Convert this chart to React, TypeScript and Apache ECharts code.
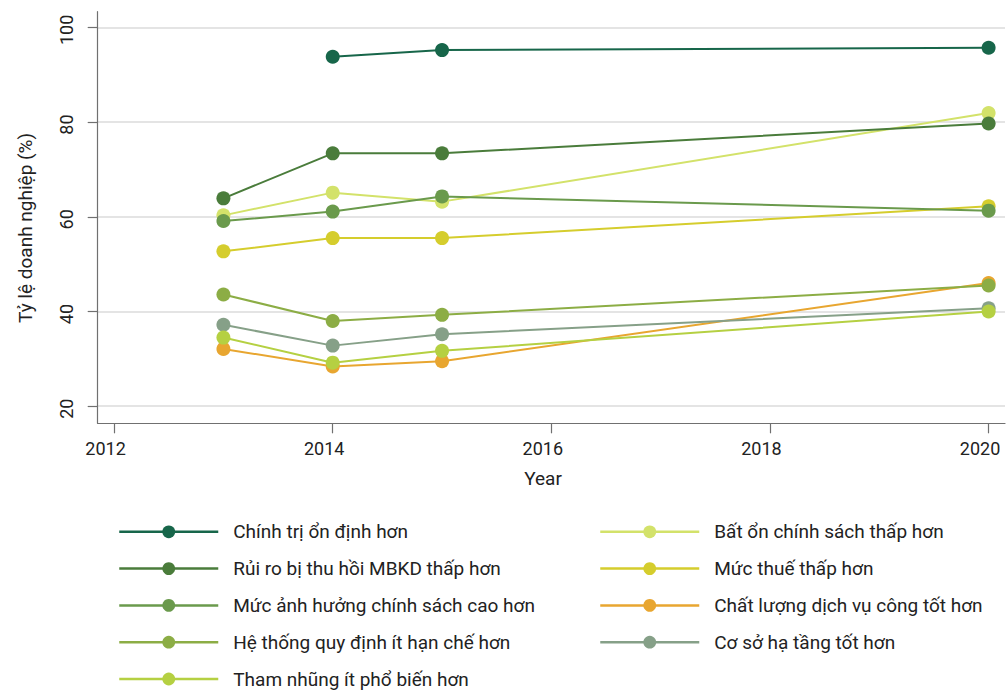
import React, { useEffect, useRef } from "react";
import * as echarts from "echarts";

const years = [2013, 2014, 2015, 2020];
const xTicks = [2012, 2014, 2016, 2018, 2020];
const yTicks = [20, 40, 60, 80, 100];

const nameChinhTri = "Chính trị ổn định hơn";
const nameBatOn = "Bất ổn chính sách thấp hơn";
const nameRuiRo = "Rủi ro bị thu hồi MBKD thấp hơn";
const nameMucThue = "Mức thuế thấp hơn";
const nameAnhHuong = "Mức ảnh hưởng chính sách cao hơn";
const nameChatLuong = "Chất lượng dịch vụ công tốt hơn";
const nameHeThong = "Hệ thống quy định ít hạn chế hơn";
const nameCoSo = "Cơ sở hạ tầng tốt hơn";
const nameThamNhung = "Tham nhũng ít phổ biến hơn";

// values for 2013, 2014, 2015, 2020 (null = no data)
const chinhTri = [null, 93.8, 95.2, 95.7];
const batOn = [60.3, 65.1, 63.2, 81.9];
const ruiRo = [63.9, 73.4, 73.4, 79.7];
const mucThue = [52.7, 55.5, 55.5, 62.2];
const anhHuong = [59.1, 61.1, 64.3, 61.3];
const chatLuong = [32.1, 28.4, 29.5, 46.0];
const heThong = [43.6, 38.0, 39.3, 45.5];
const coSo = [37.2, 32.8, 35.2, 40.7];
const thamNhung = [34.5, 29.2, 31.7, 40.0];

const leftLegend = [nameChinhTri, nameRuiRo, nameAnhHuong, nameHeThong, nameThamNhung];
const rightLegend = [nameBatOn, nameMucThue, nameChatLuong, nameCoSo];

const FONT = "Roboto";

export default function App() {
  const ref = useRef<HTMLDivElement>(null);
  useEffect(() => {
    if (!ref.current) return;
    const chart = echarts.init(ref.current, null, { renderer: "svg" });
    const mk = (name: string, vals: (number | null)[], color: string) => ({
      name,
      type: "line",
      data: years
        .map((y, i) => [y, vals[i]])
        .filter((p) => p[1] !== null),
      symbol: "circle",
      symbolSize: 14,
      showSymbol: true,
      lineStyle: { width: 2, color },
      itemStyle: { color },
      emphasis: { disabled: true },
    });
    const series = [
      mk(nameChinhTri, chinhTri, "#17664a"),
      mk(nameBatOn, batOn, "#d3e26a"),
      mk(nameRuiRo, ruiRo, "#4a7c3b"),
      mk(nameMucThue, mucThue, "#d5cd2d"),
      mk(nameAnhHuong, anhHuong, "#6a9a4c"),
      mk(nameChatLuong, chatLuong, "#e8a630"),
      mk(nameHeThong, heThong, "#8cad45"),
      mk(nameCoSo, coSo, "#86a088"),
      mk(nameThamNhung, thamNhung, "#b5d042"),
    ];
    const legendBase = {
      orient: "vertical",
      top: 522.3,
      height: 220,
      padding: 0,
      itemWidth: 99,
      itemHeight: 16,
      itemGap: 17.8,
      selectedMode: false,
      lineStyle: { width: 2.5 },
      textStyle: { fontFamily: FONT, fontSize: 19, color: "#222", padding: [0, 0, 0, 10] },
    };
    chart.setOption({
      animation: false,
      backgroundColor: "#fff",
      grid: { left: 97.7, right: 3, top: 11.7, bottom: 266.7, containLabel: false },
      xAxis: {
        type: "value",
        min: 2011.85,
        max: 2020.15,
        axisLine: { show: true, onZero: false, lineStyle: { color: "#707070", width: 1.2 } },
        axisTick: { show: true, length: 10, customValues: xTicks, lineStyle: { color: "#707070", width: 1.2 } },
        axisLabel: { customValues: xTicks, margin: 16, padding: [0, 17, 0, 0], fontFamily: FONT, fontSize: 18, color: "#222", formatter: (v: number) => String(v) },
        splitLine: { show: false },
      },
      yAxis: {
        type: "value",
        min: 16.4,
        max: 103.3,
        axisLine: { show: true, onZero: false, lineStyle: { color: "#707070", width: 1.2 } },
        axisTick: { show: true, length: 10, customValues: yTicks, lineStyle: { color: "#707070", width: 1.2 } },
        axisLabel: { customValues: yTicks, rotate: 90, margin: 22, padding: [0, 5, 0, 0], fontFamily: FONT, fontSize: 18, color: "#222" },
        splitLine: { show: true, lineStyle: { color: "#e4e4e4", width: 1.8 } },
      },
      legend: [
        { ...legendBase, left: 118, data: leftLegend },
        { ...legendBase, left: 599, data: rightLegend },
      ],
      graphic: [
        {
          type: "text",
          x: 25,
          y: 228,
          rotation: Math.PI / 2,
          style: { text: "Tỷ lệ doanh nghiệp (%)", fontFamily: FONT, fontSize: 19, fill: "#222", align: "center", verticalAlign: "middle" },
        },
        {
          type: "text",
          x: 543,
          y: 478,
          style: { text: "Year", fontFamily: FONT, fontSize: 19, fill: "#222", align: "center", verticalAlign: "middle" },
        },
      ],
      series,
    });
    return () => chart.dispose();
  }, []);
  return <div ref={ref} style={{ width: 1008, height: 690, position: "absolute", left: 0, top: 0 }} />;
}
